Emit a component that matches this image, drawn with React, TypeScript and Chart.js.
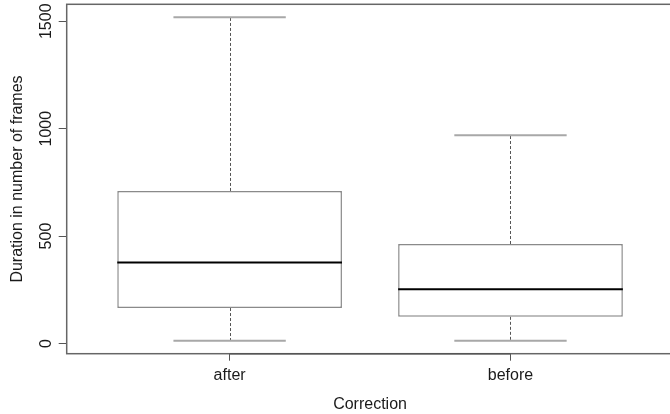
import React, { useEffect, useRef } from "react";
import { Chart, registerables } from "chart.js";

Chart.register(...registerables);

// ---- data ----
const categories = ["after", "before"];
const whiskerLow = [13, 13];
const quartile1 = [165, 124];
const medians = [377, 252];
const quartile3 = [710, 463];
const whiskerHigh = [1519, 969];
const yTicks = [0, 500, 1000, 1500];
const yAxisTitle = "Duration in number of frames";
const xAxisTitle = "Correction";

const FONT = "'Liberation Sans', Arial, Helvetica, sans-serif";
const TEXT = "#1a1a1a";

const boxPlugin = {
  id: "boxWhiskers",
  afterDatasetsDraw(chart: any) {
    const { ctx, scales } = chart;
    const xs = scales.x;
    const ys = scales.y;
    const meta = chart.getDatasetMeta(0);
    ctx.save();
    categories.forEach((_, i) => {
      const el = meta.data[i];
      const cx = xs.getPixelForValue(i);
      const w = el.width;
      const yLo = ys.getPixelForValue(whiskerLow[i]);
      const yHi = ys.getPixelForValue(whiskerHigh[i]);
      const yQ1 = ys.getPixelForValue(quartile1[i]);
      const yQ3 = ys.getPixelForValue(quartile3[i]);
      const yMed = ys.getPixelForValue(medians[i]);
      // dashed whiskers
      ctx.strokeStyle = "#555";
      ctx.lineWidth = 1;
      ctx.setLineDash([3, 2]);
      ctx.beginPath();
      ctx.moveTo(Math.round(cx) + 0.5, yQ3);
      ctx.lineTo(Math.round(cx) + 0.5, yHi);
      ctx.moveTo(Math.round(cx) + 0.5, yQ1);
      ctx.lineTo(Math.round(cx) + 0.5, yLo);
      ctx.stroke();
      ctx.setLineDash([]);
      // caps
      ctx.strokeStyle = "#a8a8a8";
      ctx.lineWidth = 2;
      ctx.beginPath();
      ctx.moveTo(cx - w / 4, yHi);
      ctx.lineTo(cx + w / 4, yHi);
      ctx.moveTo(cx - w / 4, yLo);
      ctx.lineTo(cx + w / 4, yLo);
      ctx.stroke();
      // median
      ctx.strokeStyle = "#000";
      ctx.lineWidth = 2;
      ctx.beginPath();
      ctx.moveTo(cx - w / 2, yMed);
      ctx.lineTo(cx + w / 2, yMed);
      ctx.stroke();
    });
    // plot frame
    const a = chart.chartArea;
    ctx.strokeStyle = "#666";
    ctx.lineWidth = 1.5;
    ctx.strokeRect(a.left, a.top, a.right - a.left, a.bottom - a.top);
    // x axis line between first and last tick (as R draws it)
    ctx.strokeStyle = "#555";
    ctx.lineWidth = 1.5;
    ctx.beginPath();
    ctx.moveTo(xs.getPixelForValue(0), a.bottom);
    ctx.lineTo(xs.getPixelForValue(categories.length - 1), a.bottom);
    ctx.stroke();
    ctx.restore();
  },
};

export default function App() {
  const ref = useRef<HTMLCanvasElement | null>(null);

  useEffect(() => {
    if (!ref.current) return;
    const chart = new Chart(ref.current, {
      type: "bar",
      data: {
        datasets: [
          {
            data: categories.map((_, i) => ({ x: i, y: [quartile1[i], quartile3[i]] })) as any,
            backgroundColor: "#ffffff",
            borderColor: "#8a8a8a",
            borderWidth: 1.5,
            borderSkipped: false,
            barPercentage: 0.8,
            categoryPercentage: 1.0,
          },
        ],
      },
      options: {
        animation: false,
        responsive: true,
        maintainAspectRatio: false,
        layout: { padding: { left: 0, top: 4.3, right: 6.6, bottom: 0 } },
        plugins: {
          legend: { display: false },
          tooltip: { enabled: false },
        },
        scales: {
          x: {
            type: "linear",
            offset: false,
            min: -0.58,
            max: 1.58,
            afterBuildTicks: (s: any) => {
              s.ticks = categories.map((_, i) => ({ value: i }));
            },
            afterFit: (s: any) => {
              s.height = 60.3;
            },
            grid: {
              display: true,
              offset: false,
              drawOnChartArea: false,
              drawTicks: true,
              tickLength: 7,
              tickColor: "#555",
            },
            border: { display: false },
            ticks: {
              autoSkip: false,
              maxRotation: 0,
              padding: 5.5,
              color: TEXT,
              font: { family: FONT, size: 16 },
              callback: (v: any) => categories[Math.round(Number(v))] ?? "",
            },
            title: {
              display: true,
              text: xAxisTitle,
              color: TEXT,
              font: { family: FONT, size: 16 },
              padding: { top: 0, bottom: 0 },
            },
          },
          y: {
            type: "linear",
            min: -47.6,
            max: 1579,
            afterBuildTicks: (s: any) => {
              s.ticks = yTicks.map((v) => ({ value: v }));
            },
            afterFit: (s: any) => {
              s.width = 66.7;
            },
            grid: {
              display: true,
              drawOnChartArea: false,
              drawTicks: true,
              tickLength: 8,
              tickColor: "#555",
            },
            border: { display: false },
            ticks: {
              autoSkip: false,
              minRotation: 90,
              maxRotation: 90,
              crossAlign: "center",
              padding: -5.3,
              color: TEXT,
              font: { family: FONT, size: 16 },
              callback: (v: any) => String(v),
            },
            title: {
              display: true,
              text: yAxisTitle,
              color: TEXT,
              font: { family: FONT, size: 16 },
              padding: { top: 8, bottom: 0 },
            },
          },
        },
      },
      plugins: [boxPlugin],
    });
    return () => chart.destroy();
  }, []);

  return (
    <div
      style={{
        position: "fixed",
        left: 0,
        top: 0,
        width: 670,
        height: 414,
        overflow: "hidden",
        background: "#fff",
      }}
    >
      <div style={{ position: "absolute", left: 0, top: 0, width: 680, height: 414 }}>
        <canvas ref={ref} />
      </div>
    </div>
  );
}
